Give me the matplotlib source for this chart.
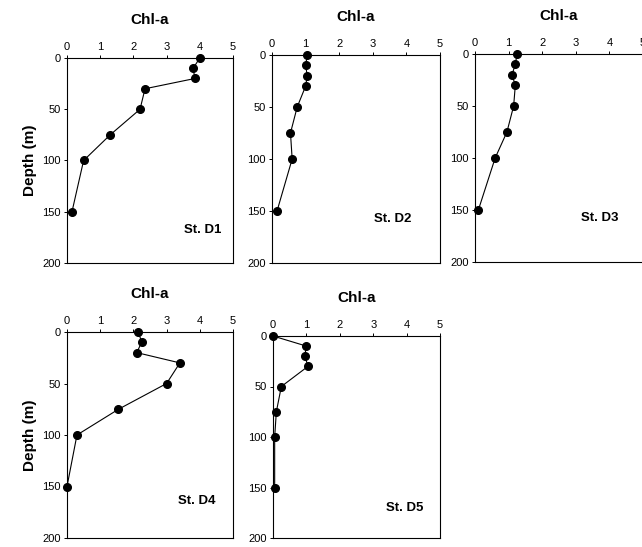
import matplotlib
matplotlib.use("Agg")
import matplotlib.pyplot as plt

plt.rcParams['font.family'] = ['Liberation Sans', 'DejaVu Sans']

depth = [0, 10, 20, 30, 50, 75, 100, 150]
d1 = [4.0, 3.8, 3.85, 2.35, 2.2, 1.3, 0.5, 0.15]
d2 = [1.05, 1.0, 1.05, 1.0, 0.75, 0.55, 0.6, 0.15]
d3 = [1.25, 1.2, 1.1, 1.2, 1.15, 0.95, 0.6, 0.1]
d4 = [2.15, 2.25, 2.1, 3.4, 3.0, 1.55, 0.3, 0.0]
d5 = [0.0, 1.0, 0.95, 1.05, 0.25, 0.1, 0.05, 0.05]
stations = ["St. D1", "St. D2", "St. D3", "St. D4", "St. D5"]
series = [d1, d2, d3, d4, d5]

# axes rectangles in pixels: left, top, right, bottom
W, H = 642, 547
boxes = [(67, 58, 233, 263), (272, 55, 440, 263), (475, 54, 643, 262),
         (67, 332, 233, 538), (273, 336, 440, 538)]
label_pos = [(0.82, 0.16), (0.72, 0.21), (0.74, 0.21), (0.78, 0.18), (0.79, 0.15)]

fig = plt.figure(figsize=(6.42, 5.47), dpi=100)

for i, (vals, name) in enumerate(zip(series, stations)):
    l, t, r, b = boxes[i]
    ax = fig.add_axes([l / W, 1 - b / H, (r - l) / W, (b - t) / H])
    ax.plot(vals, depth, color='black', lw=0.8, marker='o', ms=5.5, clip_on=False, zorder=3)
    ax.set_xlim(0, 5)
    ax.set_ylim(200, 0)
    ax.set_xticks([0, 1, 2, 3, 4, 5])
    ax.set_yticks([0, 50, 100, 150, 200])
    ax.xaxis.tick_top()
    ax.tick_params(labelsize=8, length=2.5, width=0.7, pad=2)
    for s in ax.spines.values():
        s.set_linewidth(0.8)
    ax.set_title("Chl-a", fontsize=11, fontweight='bold', pad=13)
    if i in (0, 3):
        ax.set_ylabel("Depth (m)", fontsize=11, fontweight='bold', labelpad=4)
    ax.text(label_pos[i][0], label_pos[i][1], name, transform=ax.transAxes,
            ha='center', va='center', fontsize=9.5, fontweight='bold')

fig.savefig("out.png", dpi=100)
